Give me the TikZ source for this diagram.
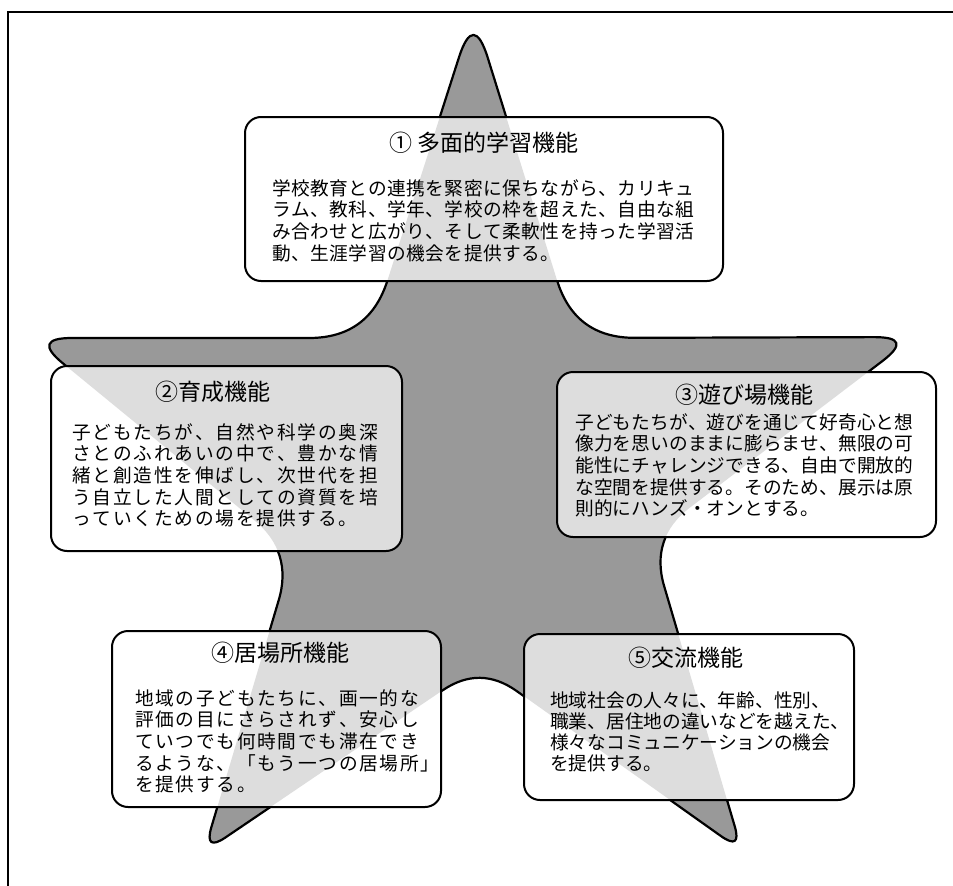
\documentclass[tikz,border=0pt]{standalone}
\usepackage{fontspec}
\setmainfont{Noto Sans CJK JP}
\usetikzlibrary{calc}
\definecolor{stargray}{gray}{0.6}
\definecolor{boxgray}{gray}{0.866}
\ExplSyntaxOn
\NewDocumentCommand\spc{mm}{\tl_map_inline:nn {#2} {##1\hspace{#1}}}
\ExplSyntaxOff
% rounded corner: prev, vertex, next, cut length, control distance from vertex
\newcommand\rc[5]{($(#2)!#4!(#1)$) .. controls ($(#2)!#5!(#1)$) and ($(#2)!#5!(#3)$) .. ($(#2)!#4!(#3)$)}
\newcommand\starpath{\rc{TL}{T}{TR}{48pt}{16pt} -- \rc{T}{TR}{R}{60pt}{20pt} -- \rc{TR}{R}{RB}{40pt}{13pt} -- \rc{R}{RB}{BR}{50pt}{17pt} -- \rc{RB}{BR}{B}{26pt}{9pt} -- \rc{BR}{B}{BL}{45pt}{15pt} -- \rc{B}{BL}{LB}{26pt}{9pt} -- \rc{BL}{LB}{L}{50pt}{17pt} -- \rc{LB}{L}{TL}{40pt}{13pt} -- \rc{L}{TL}{T}{60pt}{20pt} -- cycle}
\newcommand\funcbox[4]{%
  \fill[white,rounded corners=16pt] (#1,#2) rectangle (#3,#4);
  \begin{scope}
    \clip[rounded corners=16pt] (#1,#2) rectangle (#3,#4);
    \fill[boxgray] \starpath;
  \end{scope}
  \draw[boxline] (#1,#2) rectangle (#3,#4);}
\tikzset{
  boxline/.style={line width=2pt, rounded corners=16pt},
  bodytext/.style={anchor=base west, inner sep=0pt, font=\fontsize{18.7}{21.7}\selectfont},
  titletext/.style={anchor=base, inner sep=0pt, font=\fontsize{23}{27}\selectfont}
}
\begin{document}
\begin{tikzpicture}[x=1pt,y=-1pt]
\useasboundingbox (0,0) rectangle (953,886);
\fill[white] (0,0) rectangle (953,886);
% frame (only top and left edges visible)
\draw[line width=2.5pt, line join=miter] (8,886) -- (8,12) -- (953,12);
% star vertices
\coordinate (T) at (473.5,12);
\coordinate (TR) at (575,338);
\coordinate (R) at (914,337);
\coordinate (RB) at (650,538);
\coordinate (BR) at (742,851);
\coordinate (B) at (480,665);
\coordinate (BL) at (204,852);
\coordinate (LB) at (293,552);
\coordinate (L) at (32,338);
\coordinate (TL) at (369,338);
\fill[stargray] \starpath;
\draw[line width=2.2pt, line join=round] \starpath;
% boxes
\funcbox{245}{117}{723}{281}
\funcbox{51}{366}{402}{551}
\funcbox{557}{372}{936}{537}
\funcbox{112}{631}{441}{807}
\funcbox{524}{634}{854}{800}
% box 1
\node[titletext] (t1) at (484,151.5) {① 多面的学習機能};
\node[bodytext] (b1a) at (272,195) {\spc{0.5pt}{学校教育との連携を緊密に保ちながら、カリキュ}};
\node[bodytext] (b1b) at (272,216.7) {\spc{0.5pt}{ラム、教科、学年、学校の枠を超えた、自由な組}};
\node[bodytext] (b1c) at (272,238.4) {\spc{0.5pt}{み合わせと広がり、そして柔軟性を持った学習活}};
\node[bodytext] (b1d) at (272,260.1) {\spc{0.5pt}{動、生涯学習の機会を提供する。}};
% box 2
\node[titletext] (t2) at (213,400.5) {②育成機能};
\node[bodytext] (b2a) at (72,439) {\spc{1.8pt}{子どもたちが、自然や科学の奥深}};
\node[bodytext] (b2b) at (72,460.7) {\spc{1.8pt}{さとのふれあいの中で、豊かな情}};
\node[bodytext] (b2c) at (72,482.4) {\spc{1.8pt}{緒と創造性を伸ばし、次世代を担}};
\node[bodytext] (b2d) at (72,504.1) {\spc{1.8pt}{う自立した人間としての資質を培}};
\node[bodytext] (b2e) at (72,525.8) {\spc{1.8pt}{っていくための場を提供する。}};
% box 3
\node[titletext] (t3) at (744,403.5) {③遊び場機能};
\node[bodytext] (b3a) at (575,429) {\spc{0.1pt}{子どもたちが、遊びを通じて好奇心と想}};
\node[bodytext] (b3b) at (575,450.7) {\spc{0.1pt}{像力を思いのままに膨らませ、無限の可}};
\node[bodytext] (b3c) at (575,472.4) {\spc{0.1pt}{能性にチャレンジできる、自由で開放的}};
\node[bodytext] (b3d) at (575,494.1) {\spc{0.1pt}{な空間を提供する。そのため、展示は原}};
\node[bodytext] (b3e) at (575,515.8) {\spc{0.1pt}{則的にハンズ・オンとする。}};
% box 4
\node[titletext] (t4) at (280,661.5) {④居場所機能};
\node[bodytext] (b4a) at (135,705) {\spc{1.7pt}{地域の子どもたちに、画一的な}};
\node[bodytext] (b4b) at (135,726.7) {\spc{1.7pt}{評価の目にさらされず、安心し}};
\node[bodytext] (b4c) at (135,748.4) {\spc{1.7pt}{ていつでも何時間でも滞在でき}};
\node[bodytext] (b4d) at (135,770.1) {\spc{1.7pt}{るような、「もう一つの居場所」}};
\node[bodytext] (b4e) at (135,791.8) {\spc{1.7pt}{を提供する。}};
% box 5
\node[titletext] (t5) at (686,666.5) {⑤交流機能};
\node[bodytext] (b5a) at (550,707) {地域社会の人々に、年齢、性別、};
\node[bodytext] (b5b) at (550,728.3) {職業、居住地の違いなどを越えた、};
\node[bodytext] (b5c) at (550,749.6) {様々なコミュニケーションの機会};
\node[bodytext] (b5d) at (550,770.9) {を提供する。};
\end{tikzpicture}
\end{document}
